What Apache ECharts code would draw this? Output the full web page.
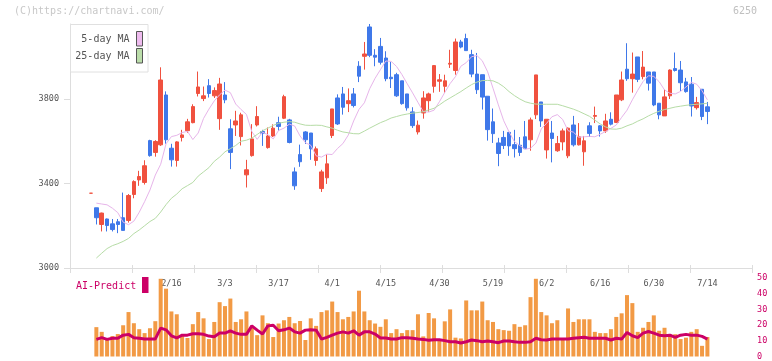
<!DOCTYPE html>
<html>
<head>
<meta charset="utf-8">
<script src="https://cdn.jsdelivr.net/npm/echarts@6/dist/echarts.min.js"></script>
<style>
html, body { margin: 0; padding: 0; background: #fff; }
#chart { width: 772px; height: 361px; }
</style>
</head>
<body>
<div id="chart"></div>
<script>
// trading days, 1/23 .. 7/14
const dates = [
  '1/23','1/26','1/27','1/28','1/29','1/30','2/2','2/3','2/4','2/5','2/6','2/9','2/10','2/12','2/13',
  '2/16','2/17','2/18','2/19','2/20','2/24','2/25','2/26','2/27','3/2',
  '3/3','3/4','3/5','3/6','3/9','3/10','3/11','3/12','3/13','3/16',
  '3/17','3/18','3/19','3/23','3/24','3/25','3/26','3/27','3/30','3/31',
  '4/1','4/2','4/3','4/6','4/7','4/8','4/9','4/10','4/13','4/14',
  '4/15','4/16','4/17','4/20','4/21','4/22','4/23','4/24','4/27','4/28',
  '4/30','5/1','5/7','5/8','5/11','5/12','5/13','5/14','5/15','5/18',
  '5/19','5/20','5/21','5/22','5/25','5/26','5/27','5/28','5/29','6/1',
  '6/2','6/3','6/4','6/5','6/8','6/9','6/10','6/11','6/12','6/15',
  '6/16','6/17','6/18','6/19','6/22','6/23','6/24','6/25','6/26','6/29',
  '6/30','7/1','7/2','7/3','7/6','7/7','7/8','7/9','7/10','7/13',
  '7/14'
];

// [open, close, low, high]
const ohlc = [
  [3354,3354,3354,3354],[3285,3238,3206,3285],[3206,3260,3173,3262],[3232,3201,3173,3234],[3209,3182,3173,3232],
  [3219,3206,3165,3232],[3238,3178,3178,3357],[3225,3343,3215,3350],[3348,3409,3330,3415],[3417,3433,3389,3460],
  [3405,3484,3395,3510],[3603,3532,3527,3607],[3547,3599,3527,3605],[3583,3890,3578,3950],[3819,3607,3588,3836],
  [3567,3512,3480,3588],[3509,3597,3480,3600],[3618,3630,3599,3654],[3650,3692,3640,3706],[3688,3764,3685,3775],
  [3826,3857,3812,3930],[3802,3815,3790,3859],[3863,3826,3807,3894],[3815,3840,3805,3855],[3707,3871,3654,3900],
  [3819,3796,3780,3880],[3659,3547,3468,3704],[3677,3696,3625,3744],[3622,3725,3580,3735],[3441,3465,3381,3512],
  [3532,3611,3527,3681],[3677,3717,3670,3766],[3646,3638,3578,3654],[3570,3625,3565,3665],[3625,3662,3620,3680],
  [3688,3670,3650,3716],[3709,3811,3705,3820],[3701,3594,3590,3706],[3455,3389,3370,3476],[3537,3503,3479,3584],
  [3644,3607,3587,3648],[3639,3564,3512,3639],[3509,3564,3484,3575],[3376,3455,3360,3465],[3427,3493,3398,3537],
  [3627,3753,3615,3753],[3805,3682,3677,3822],[3824,3761,3726,3857],[3778,3792,3738,3850],[3824,3769,3760,3852],
  [3955,3908,3880,3979],[4002,4013,3939,4070],[4141,4007,3998,4155],[4007,3998,3955,4036],[4049,3974,3963,4089],
  [3994,3896,3884,4026],[3903,3896,3852,3975],[3915,3815,3810,3924],[3886,3778,3773,3886],[3824,3758,3745,3824],
  [3739,3674,3663,3761],[3644,3676,3632,3698],[3734,3805,3707,3837],[3792,3824,3740,3830],[3860,3958,3830,3960],
  [3884,3891,3834,3918],[3860,3886,3830,3915],[3965,3969,3947,4033],[3935,4070,3915,4086],[4070,4046,4040,4080],
  [4086,4029,4029,4109],[4010,3918,3903,4033],[3918,3844,3824,4018],[3915,3809,3750,3915],[3813,3655,3603,3813],
  [3692,3636,3592,3755],[3592,3542,3482,3616],[3618,3580,3563,3649],[3642,3578,3531,3642],[3584,3565,3523,3654],
  [3581,3547,3530,3620],[3621,3565,3563,3696],[3607,3701,3555,3712],[3725,3914,3705,3914],[3786,3696,3668,3786],
  [3559,3704,3518,3704],[3639,3613,3500,3696],[3555,3589,3550,3625],[3597,3649,3557,3660],[3531,3662,3520,3665],
  [3677,3583,3575,3720],[3583,3621,3580,3686],[3550,3602,3484,3625],[3673,3637,3620,3690],[3718,3722,3686,3764],
  [3673,3649,3622,3676],[3649,3696,3640,3730],[3704,3681,3675,3737],[3689,3819,3686,3819],[3796,3890,3790,3930],
  [3941,3896,3886,4064],[3896,3918,3830,4020],[3999,3893,3880,3999],[3906,3951,3893,4027],[3928,3875,3840,3928],
  [3928,3772,3766,3928],[3780,3725,3704,3780],[3720,3810,3720,3845],[3815,3937,3800,3940],[3944,3935,3930,4020],
  [3937,3877,3838,3980],[3881,3835,3830,3900],[3870,3767,3717,3904],[3759,3783,3750,3810],[3846,3717,3700,3846],
  [3763,3741,3681,3786]
];

const ma5 = [
  null,3307,3303,3299,3283,3262,3217,3205,3222,3264,3314,3369,3440,3491,3588,3622,3628,3641,3647,3608,
  3639,3708,3752,3791,3820,3842,3830,3776,3750,3727,3646,3609,3643,3631,3611,3651,3662,3681,3672,3625,
  3593,3581,3531,3525,3539,3537,3566,3589,3629,3696,3751,3782,3849,3898,3939,3980,3978,3954,3916,3872,
  3829,3784,3740,3738,3747,3787,3831,3873,3906,3955,3972,4000,4006,3981,3929,3851,3772,3697,3644,3598,
  3580,3562,3567,3591,3658,3685,3716,3726,3703,3650,3643,3619,3621,3623,3621,3633,3646,3661,3677,3713,
  3747,3796,3841,3883,3910,3907,3882,3843,3827,3824,3836,3857,3879,3870,3839,3796
];

const ma25 = [
  null,3047,3070,3092,3106,3115,3126,3140,3163,3180,3200,3220,3235,3265,3300,3330,3350,3375,3390,3405,
  3435,3455,3475,3505,3525,3550,3565,3580,3600,3605,3615,3632,3650,3662,3675,3685,3690,3693,3690,3682,
  3676,3675,3676,3675,3668,3662,3652,3644,3640,3636,3635,3648,3662,3675,3688,3698,3710,3717,3724,3729,
  3733,3736,3740,3748,3756,3772,3790,3805,3820,3835,3852,3868,3880,3887,3888,3886,3875,3858,3835,3816,
  3800,3787,3780,3776,3775,3775,3775,3775,3768,3760,3752,3742,3730,3718,3700,3682,3668,3658,3657,3662,
  3673,3682,3695,3706,3720,3732,3742,3750,3756,3762,3766,3770,3773,3775,3777,3780
];

const volume = [
  null,18.7,15.7,10.5,13.0,14.3,19.9,28.3,21.2,17.4,14.9,18.0,22.5,49.5,43.2,28.7,26.9,13.2,11.8,20.6,
  28.3,24.3,11.1,22.0,34.6,32.1,36.9,22.0,23.7,28.7,18.5,13.6,26.2,21.2,12.4,21.0,23.1,25.2,21.2,22.6,
  10.5,24.3,19.5,28.3,29.4,35.0,28.3,23.7,25.2,28.7,41.9,28.7,23.1,21.0,18.9,23.7,14.9,17.4,14.9,16.8,
  16.8,26.9,12.8,27.7,24.3,10.7,22.4,30.0,12.0,11.5,35.7,29.4,29.4,35.0,23.1,22.0,17.4,16.8,16.4,20.6,
  18.9,19.9,37.8,49.5,28.3,26.2,21.2,23.1,10.7,30.6,22.0,23.7,23.7,23.7,15.7,14.9,14.9,17.4,25.2,27.5,
  39.1,34.0,15.7,18.3,22.0,26.2,16.4,18.3,14.0,14.2,11.1,12.0,15.7,17.4,6.8,12.4
];

const aiPredict = [
  null,10.9,12.0,10.9,11.6,11.6,13.6,14.1,12.0,11.6,11.2,11.2,11.2,18.1,17.0,13.2,11.8,13.6,13.6,14.5,
  14.5,14.1,13.0,12.6,14.9,14.9,16.4,14.9,14.1,14.1,19.5,16.8,14.3,19.5,19.9,16.4,17.0,18.1,15.7,14.9,
  16.8,17.0,16.8,11.1,12.2,13.6,14.9,15.7,14.9,16.4,13.6,15.7,15.7,14.3,11.8,11.8,11.1,11.1,12.0,12.0,
  11.6,11.1,10.9,10.3,10.7,10.7,10.1,9.4,9.4,8.6,9.4,10.5,10.1,9.4,9.9,9.4,8.8,9.9,9.9,9.4,
  9.0,9.0,9.4,11.6,10.7,10.5,11.1,11.1,11.1,11.1,11.6,12.0,12.2,11.6,11.6,11.6,11.6,10.5,11.6,11.1,
  15.3,13.2,12.0,14.9,15.9,14.9,13.6,13.2,13.6,12.2,13.6,14.1,13.6,13.6,12.8,11.1
];

const priceTicks = [3000, 3400, 3800];

const MONO = '"DejaVu Sans Mono", monospace';
const UP = '#f0513f';
const DOWN = '#3f78e9';
const AXIS = '#dddddd';
const CRIMSON = '#cc0066';

// candles sit in their own grid so slot width matches the picture
const SLOT = 5.36;
const PLOT_L = 91 - SLOT / 2;
const PLOT_W = SLOT * dates.length;

const chart = echarts.init(document.getElementById('chart'));

chart.setOption({
  animation: false,
  backgroundColor: '#fff',
  grid: [
    { left: 70, top: 24, width: 682, height: 244 },        // frame with axes
    { left: PLOT_L, top: 24, width: PLOT_W, height: 244 },  // candles
    { left: PLOT_L, top: 278, width: PLOT_W, height: 79.7 } // volume / AI
  ],
  xAxis: [
    {
      type: 'value', gridIndex: 0, position: 'bottom', min: 0, max: 11, interval: 1,
      axisLine: { lineStyle: { color: AXIS } },
      axisTick: { inside: true, length: 3, lineStyle: { color: AXIS } },
      axisLabel: { show: false }, splitLine: { show: false }
    },
    {
      type: 'value', gridIndex: 0, position: 'bottom', min: 0, max: 11, interval: 1,
      axisLine: { show: false },
      axisTick: { length: 5, lineStyle: { color: AXIS } },
      axisLabel: { show: false }, splitLine: { show: false }
    },
    {
      type: 'category', gridIndex: 1, data: dates, boundaryGap: true,
      axisLine: { show: false }, axisTick: { show: false }, splitLine: { show: false },
      axisLabel: {
        interval: (i) => i >= 15 && (i - 15) % 10 === 0,
        margin: 11, color: '#555', fontFamily: MONO, fontSize: 8.5
      }
    },
    { type: 'category', gridIndex: 2, data: dates, boundaryGap: true, show: false }
  ],
  yAxis: [
    {
      type: 'value', gridIndex: 0, min: 3000, max: 4155,
      axisLine: { show: true, lineStyle: { color: AXIS } },
      axisTick: { show: true, length: 6, customValues: priceTicks, lineStyle: { color: AXIS } },
      axisLabel: {
        margin: 11, color: '#555', fontFamily: MONO, fontSize: 8.5,
        customValues: priceTicks, formatter: (v) => String(v)
      },
      splitLine: { show: false }
    },
    { type: 'value', gridIndex: 1, min: 3000, max: 4155, show: false },
    {
      type: 'value', gridIndex: 2, min: 0, max: 50, interval: 10, position: 'right',
      axisLine: { show: false }, axisTick: { show: false }, splitLine: { show: false },
      axisLabel: { margin: 47, align: 'left', color: CRIMSON, fontFamily: MONO, fontSize: 8.5 }
    }
  ],
  series: [
    {
      name: 'price', type: 'candlestick', xAxisIndex: 2, yAxisIndex: 1,
      data: ohlc, barWidth: 4,
      itemStyle: {
        color: UP, color0: DOWN, borderColor: UP, borderColor0: DOWN,
        borderColorDoji: UP, borderWidth: 1
      }
    },
    {
      name: '5-day MA', type: 'line', xAxisIndex: 2, yAxisIndex: 1, data: ma5,
      symbol: 'none', lineStyle: { color: '#e7b5ea', width: 1 }, z: 3
    },
    {
      name: '25-day MA', type: 'line', xAxisIndex: 2, yAxisIndex: 1, data: ma25,
      symbol: 'none', lineStyle: { color: '#b6dca6', width: 1 }, z: 3
    },
    {
      name: 'volume', type: 'bar', xAxisIndex: 3, yAxisIndex: 2, data: volume,
      barWidth: 4, itemStyle: { color: '#f29a45' }
    },
    {
      name: 'AI-Predict', type: 'line', xAxisIndex: 3, yAxisIndex: 2, data: aiPredict,
      symbol: 'none', lineStyle: { color: CRIMSON, width: 3 }, z: 4
    }
  ],
  graphic: [
    {
      type: 'text', left: 14, top: 6,
      style: { text: '(C)https://chartnavi.com/', fill: '#c8c8c8', font: '10px ' + MONO }
    },
    {
      type: 'text', right: 15, top: 6,
      style: { text: '6250', fill: '#c0c0c0', font: '10px ' + MONO }
    },
    // MA legend box
    {
      type: 'rect', z: 100, shape: { x: 70.5, y: 24.5, width: 77.5, height: 47.5 },
      style: { fill: '#fff', stroke: '#e0e0e0', lineWidth: 1 }
    },
    {
      type: 'text', z: 101, x: 129.5, y: 39.5,
      style: { text: '5-day MA', fill: '#555', font: '10px ' + MONO, align: 'right', verticalAlign: 'middle' }
    },
    {
      type: 'rect', z: 101, shape: { x: 136.5, y: 31.5, width: 6, height: 14.5 },
      style: { fill: '#eebbee', stroke: '#555', lineWidth: 1 }
    },
    {
      type: 'text', z: 101, x: 129.5, y: 56.5,
      style: { text: '25-day MA', fill: '#555', font: '10px ' + MONO, align: 'right', verticalAlign: 'middle' }
    },
    {
      type: 'rect', z: 101, shape: { x: 136.5, y: 48.5, width: 6, height: 14.5 },
      style: { fill: '#bbddaa', stroke: '#555', lineWidth: 1 }
    },
    // AI-Predict label
    {
      type: 'text', z: 101, x: 76, y: 286,
      style: { text: 'AI-Predict', fill: CRIMSON, font: '10px ' + MONO, verticalAlign: 'middle' }
    },
    {
      type: 'rect', z: 101, shape: { x: 142, y: 277, width: 6.5, height: 16 },
      style: { fill: CRIMSON }
    }
  ]
});
</script>
</body>
</html>
